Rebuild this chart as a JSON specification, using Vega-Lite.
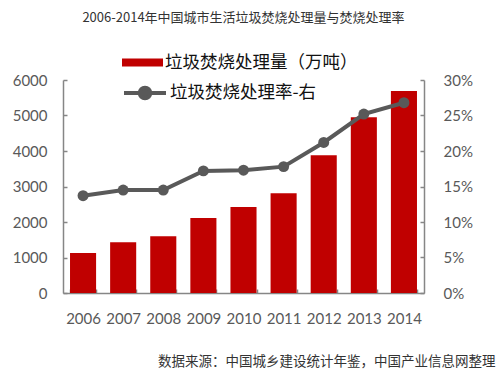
{
  "$schema": "https://vega.github.io/schema/vega-lite/v6.json",
  "width": 361,
  "height": 213,
  "autosize": {"type": "none"},
  "padding": {"left": 63, "top": 80, "right": 76, "bottom": 77},
  "background": "white",
  "title": {
    "text": "2006-2014年中国城市生活垃圾焚烧处理量与焚烧处理率",
    "font": "Noto Sans CJK SC",
    "fontSize": 13,
    "fontWeight": "normal",
    "color": "#333333",
    "anchor": "middle",
    "frame": "group",
    "offset": 17
  },
  "data": {
    "values": [
      {"year": "2006", "amount": 1130, "rate": 0.137},
      {"year": "2007", "amount": 1430, "rate": 0.145},
      {"year": "2008", "amount": 1600, "rate": 0.145},
      {"year": "2009", "amount": 2110, "rate": 0.172},
      {"year": "2010", "amount": 2420, "rate": 0.173},
      {"year": "2011", "amount": 2810, "rate": 0.178},
      {"year": "2012", "amount": 3880, "rate": 0.212},
      {"year": "2013", "amount": 4950, "rate": 0.252},
      {"year": "2014", "amount": 5690, "rate": 0.268}
    ]
  },
  "encoding": {
    "x": {
      "field": "year",
      "type": "ordinal",
      "scale": {"paddingInner": 0.35, "paddingOuter": 0.175},
      "axis": {
        "labelAngle": 0,
        "labelFont": "Lato",
        "labelFontSize": 15,
        "labelColor": "#595959",
        "labelPadding": 22,
        "tickBand": "extent",
        "tickSize": -4,
        "tickColor": "#868686",
        "domainColor": "#868686",
        "domainWidth": 1.5,
        "tickWidth": 1.5,
        "title": "数据来源：中国城乡建设统计年鉴，中国产业信息网整理",
        "titleFont": "Noto Sans CJK SC",
        "titleFontSize": 13.5,
        "titleFontWeight": "normal",
        "titleColor": "#333333",
        "titleAlign": "right",
        "titleBaseline": "middle",
        "titleAnchor": "end",
        "titleX": 432,
        "titleY": 68
      }
    }
  },
  "layer": [
    {
      "mark": {"type": "bar"},
      "encoding": {
        "y": {
          "field": "amount",
          "type": "quantitative",
          "scale": {"domain": [0, 6000], "nice": false},
          "axis": {
            "orient": "left",
            "values": [0, 1000, 2000, 3000, 4000, 5000, 6000],
            "format": "d",
            "grid": false,
            "title": null,
            "labelFont": "Lato",
            "labelFontSize": 15,
            "labelColor": "#595959",
            "labelPadding": 20,
            "tickSize": -4,
            "tickColor": "#868686",
            "tickWidth": 1.5,
            "domainColor": "#868686",
            "domainWidth": 1.5
          }
        },
        "fill": {
          "datum": "垃圾焚烧处理量（万吨）",
          "type": "nominal",
          "scale": {"range": ["#c00000"]},
          "legend": {
            "orient": "none",
            "legendX": 59,
            "legendY": -38,
            "title": null,
            "symbolType": "M-1,-0.2H1V0.2H-1Z",
            "symbolSize": 1681,
            "symbolStrokeWidth": 0,
            "labelFont": "Noto Sans CJK SC",
            "labelFontSize": 17.5,
            "labelColor": "#111111",
            "labelOffset": 2,
            "labelLimit": 400
          }
        }
      }
    },
    {
      "mark": {
        "type": "line",
        "strokeWidth": 4,
        "point": {"filled": true, "size": 120}
      },
      "encoding": {
        "y": {
          "field": "rate",
          "type": "quantitative",
          "scale": {"domain": [0, 0.3], "nice": false},
          "axis": {
            "orient": "right",
            "values": [0, 0.05, 0.1, 0.15, 0.2, 0.25, 0.3],
            "format": ".0%",
            "grid": false,
            "title": null,
            "labelFont": "Lato",
            "labelFontSize": 15,
            "labelColor": "#595959",
            "labelPadding": 23,
            "tickSize": -4,
            "tickColor": "#868686",
            "tickWidth": 1.5,
            "domainColor": "#868686",
            "domainWidth": 1.5
          }
        },
        "color": {
          "datum": "垃圾焚烧处理率-右",
          "type": "nominal",
          "scale": {"range": ["#595959"]},
          "legend": {
            "orient": "none",
            "legendX": 59,
            "legendY": -10,
            "title": null,
            "symbolType": "M-1,0H1M0.25,0A0.25,0.25,0,1,1,-0.25,0A0.25,0.25,0,1,1,0.25,0Z",
            "symbolSize": 1764,
            "symbolStrokeWidth": 4,
            "symbolFillColor": "#595959",
            "labelFont": "Noto Sans CJK SC",
            "labelFontSize": 17.5,
            "labelColor": "#111111",
            "labelOffset": 2,
            "labelLimit": 400
          }
        }
      }
    }
  ],
  "resolve": {"scale": {"y": "independent", "fill": "independent", "color": "independent"}},
  "config": {"view": {"stroke": null}}
}
